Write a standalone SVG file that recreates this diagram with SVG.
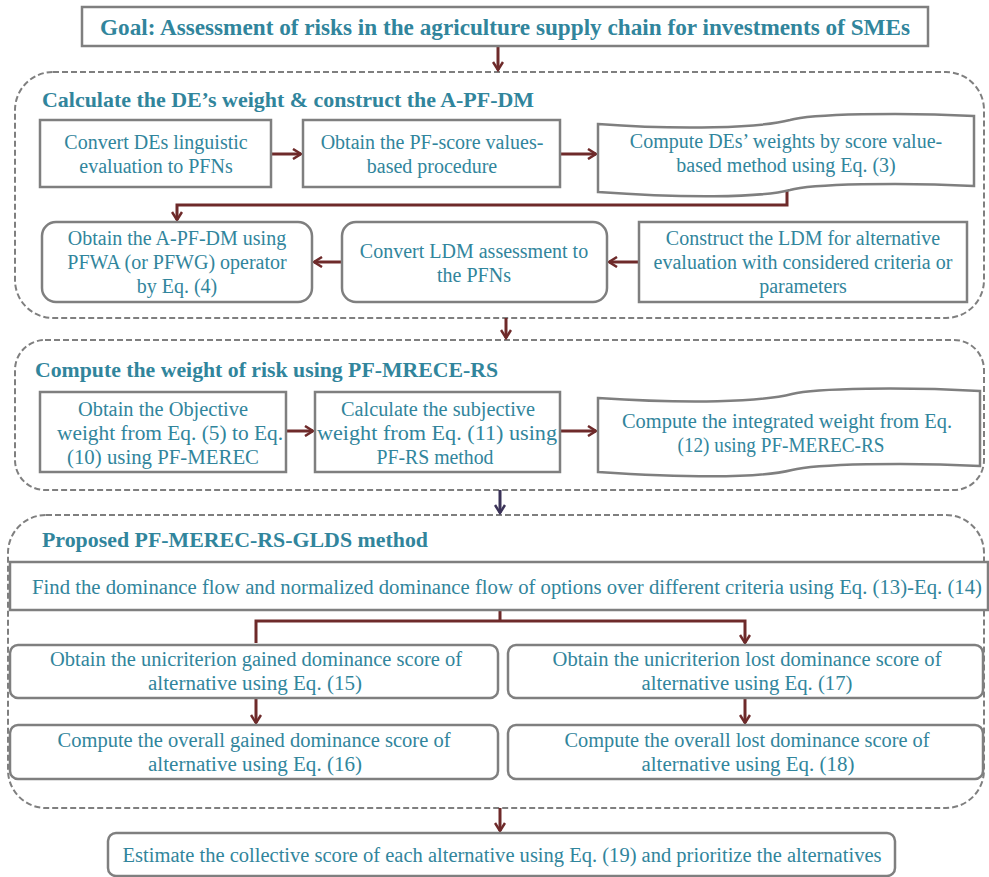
<svg xmlns="http://www.w3.org/2000/svg" width="989" height="877" viewBox="0 0 989 877">
<defs>
<style>
.t{font-family:"Liberation Serif","Times New Roman",serif;font-size:20px;fill:#31859c;text-anchor:middle}
.tl{font-family:"Liberation Serif","Times New Roman",serif;font-size:20.5px;fill:#31859c;text-anchor:middle}
.h{font-family:"Liberation Serif","Times New Roman",serif;font-size:21px;font-weight:bold;fill:#31859c}
.box{fill:#fff;stroke:#7f7f7f;stroke-width:2.5}
.sec{fill:none;stroke:#7f7f7f;stroke-width:2;stroke-dasharray:6 3}
.c{fill:none;stroke:#6e2a2a;stroke-width:3}
</style>
<marker id="ah" markerWidth="12" markerHeight="12" refX="10" refY="6" orient="auto" markerUnits="userSpaceOnUse">
<path d="M2,1 L10,6 L2,11" fill="none" stroke="#6e2a2a" stroke-width="2.5"/>
</marker>
<marker id="ahn" markerWidth="12" markerHeight="12" refX="10" refY="6" orient="auto" markerUnits="userSpaceOnUse">
<path d="M2,1 L10,6 L2,11" fill="none" stroke="#3b3358" stroke-width="2.5"/>
</marker>
</defs>
<rect width="989" height="877" fill="#fff"/>

<g id="sections">
<rect class="sec" x="15" y="72" width="969" height="246" rx="38"/>
<rect class="sec" x="15" y="340" width="969" height="150" rx="30"/>
<rect class="sec" x="8" y="515" width="976" height="293" rx="38"/>
</g>

<g id="connectors">
<path class="c" d="M498,46 V70" marker-end="url(#ah)"/>
<path class="c" d="M271,154 H301" marker-end="url(#ah)"/>
<path class="c" d="M560,154 H596" marker-end="url(#ah)"/>
<path class="c" d="M787,188 V205 H177 V220" marker-end="url(#ah)"/>
<path class="c" d="M639,262 H609" marker-end="url(#ah)"/>
<path class="c" d="M342,262 H314" marker-end="url(#ah)"/>
<path class="c" d="M506,318 V338" marker-end="url(#ah)"/>
<path class="c" d="M286,431 H313" marker-end="url(#ah)"/>
<path class="c" d="M560,431 H596" marker-end="url(#ah)"/>
<path d="M500,490 V513" fill="none" stroke="#3b3358" stroke-width="3" marker-end="url(#ahn)"/>
<path class="c" d="M500,610 V621 H256 V643 M500,621 H745 V643" marker-end="url(#ah)"/>
<path class="c" d="M256,698 V723" marker-end="url(#ah)"/>
<path class="c" d="M745,698 V723" marker-end="url(#ah)"/>
<path class="c" d="M500,808 V831" marker-end="url(#ah)"/>
</g>

<g id="goal">
<rect class="box" x="82" y="7" width="846" height="39"/>
<text class="h" x="100" y="35" textLength="810" lengthAdjust="spacingAndGlyphs" style="font-size:24px">Goal: Assessment of risks in the agriculture supply chain for investments of SMEs</text>
</g>

<g id="title1"><text class="h" x="42" y="107" textLength="492" lengthAdjust="spacingAndGlyphs">Calculate the DE’s weight &amp; construct the A-PF-DM</text></g>

<g id="n1">
<rect class="box" x="40" y="120" width="231" height="67"/>
<text class="t" x="156" y="149">Convert DEs linguistic</text>
<text class="t" x="156" y="173">evaluation to PFNs</text>
</g>
<g id="n2">
<rect class="box" x="303" y="120" width="257" height="67"/>
<text class="t" x="432" y="149">Obtain the PF-score values-</text>
<text class="t" x="432" y="173">based procedure</text>
</g>
<g id="n3">
<path class="box" d="M598,124 C680,130 760,128 790,120 C810,114 900,112 974,116 L974,186 C900,182 810,184 790,190 C760,198 680,198 598,192 Z"/>
<text class="t" x="786" y="148">Compute DEs’ weights by score value-</text>
<text class="t" x="786" y="172">based method using Eq. (3)</text>
</g>
<g id="n4">
<rect class="box" x="42" y="222" width="270" height="80" rx="14"/>
<text class="t" x="177" y="245">Obtain the A-PF-DM using</text>
<text class="t" x="177" y="269">PFWA (or PFWG) operator</text>
<text class="t" x="177" y="293">by Eq. (4)</text>
</g>
<g id="n5">
<rect class="box" x="342" y="222" width="265" height="80" rx="14"/>
<text class="t" x="474" y="258">Convert LDM assessment to</text>
<text class="t" x="474" y="282">the PFNs</text>
</g>
<g id="n6">
<rect class="box" x="639" y="222" width="328" height="80"/>
<text class="t" x="803" y="245">Construct the LDM for alternative</text>
<text class="t" x="803" y="269">evaluation with considered criteria or</text>
<text class="t" x="803" y="293">parameters</text>
</g>

<g id="title2"><text class="h" x="35" y="377" textLength="463" lengthAdjust="spacingAndGlyphs">Compute the weight of risk using PF-MRECE-RS</text></g>

<g id="n7">
<rect class="box" x="40" y="392" width="246" height="80"/>
<text class="tl" x="163" y="416" textLength="170" lengthAdjust="spacingAndGlyphs">Obtain the Objective</text>
<text class="tl" x="170" y="440" textLength="226" lengthAdjust="spacingAndGlyphs">weight from Eq. (5) to Eq.</text>
<text class="tl" x="163" y="464" textLength="192" lengthAdjust="spacingAndGlyphs">(10) using PF-MEREC</text>
</g>
<g id="n8">
<rect class="box" x="315" y="392" width="245" height="80"/>
<text class="tl" x="438" y="416" textLength="194" lengthAdjust="spacingAndGlyphs">Calculate the subjective</text>
<text class="tl" x="437" y="440" textLength="240" lengthAdjust="spacingAndGlyphs">weight from Eq. (11) using</text>
<text class="tl" x="435" y="464" textLength="117" lengthAdjust="spacingAndGlyphs">PF-RS method</text>
</g>
<g id="n9">
<path class="box" d="M598,398 C690,404 760,402 792,394 C815,388 905,387 980,391 L980,466 C905,462 815,464 792,470 C760,478 690,478 598,472 Z"/>
<text class="tl" x="787" y="428" textLength="330" lengthAdjust="spacingAndGlyphs">Compute the integrated weight from Eq.</text>
<text class="tl" x="781" y="452" textLength="207" lengthAdjust="spacingAndGlyphs">(12) using PF-MEREC-RS</text>
</g>

<g id="title3"><text class="h" x="42" y="547" textLength="386" lengthAdjust="spacingAndGlyphs">Proposed PF-MEREC-RS-GLDS method</text></g>

<g id="n10">
<rect class="box" x="10" y="562" width="978" height="48"/>
<text class="tl" x="507" y="594" textLength="950" lengthAdjust="spacingAndGlyphs">Find the dominance flow and normalized dominance flow of options over different criteria using Eq. (13)-Eq. (14)</text>
</g>
<g id="n11">
<rect class="box" x="10" y="645" width="488" height="53" rx="8"/>
<text class="tl" x="256" y="666" textLength="412" lengthAdjust="spacingAndGlyphs">Obtain the unicriterion gained dominance score of</text>
<text class="tl" x="255" y="690" textLength="214" lengthAdjust="spacingAndGlyphs">alternative using Eq. (15)</text>
</g>
<g id="n12">
<rect class="box" x="508" y="645" width="475" height="53" rx="8"/>
<text class="tl" x="747" y="666" textLength="389" lengthAdjust="spacingAndGlyphs">Obtain the unicriterion lost dominance score of</text>
<text class="tl" x="747" y="690" textLength="211" lengthAdjust="spacingAndGlyphs">alternative using Eq. (17)</text>
</g>
<g id="n13">
<rect class="box" x="10" y="725" width="488" height="54" rx="8"/>
<text class="tl" x="254" y="747" textLength="393" lengthAdjust="spacingAndGlyphs">Compute the overall gained dominance score of</text>
<text class="tl" x="255" y="771" textLength="214" lengthAdjust="spacingAndGlyphs">alternative using Eq. (16)</text>
</g>
<g id="n14">
<rect class="box" x="508" y="725" width="475" height="54" rx="8"/>
<text class="tl" x="747" y="747" textLength="365" lengthAdjust="spacingAndGlyphs">Compute the overall lost dominance score of</text>
<text class="tl" x="748" y="771" textLength="213" lengthAdjust="spacingAndGlyphs">alternative using Eq. (18)</text>
</g>
<g id="n15">
<rect class="box" x="108" y="833" width="787" height="43" rx="8"/>
<text class="tl" x="502" y="862" textLength="759" lengthAdjust="spacingAndGlyphs">Estimate the collective score of each alternative using Eq. (19) and prioritize the alternatives</text>
</g>
</svg>
